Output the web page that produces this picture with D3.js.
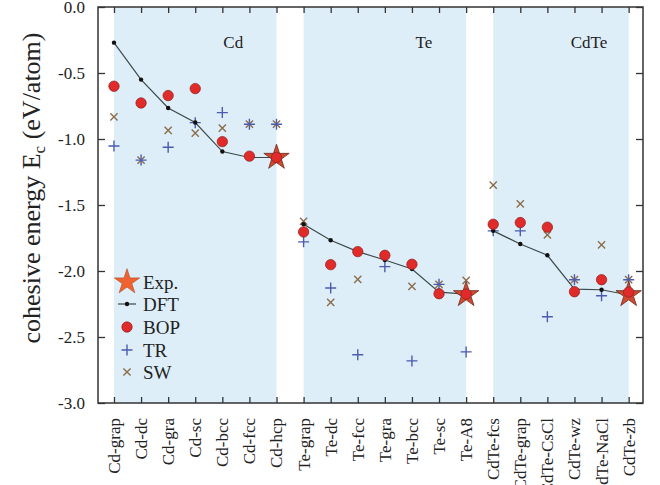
<!DOCTYPE html>
<html>
<head>
<meta charset="utf-8">
<script src="https://cdn.jsdelivr.net/npm/d3@7"></script>
<style>
  body { margin: 0; background: #fff; }
  svg { display: block; font-family: "Liberation Serif", "DejaVu Serif", serif; }
</style>
</head>
<body>
<svg id="chart" width="660" height="485"></svg>
<script>
// structures on the x axis
var categories = ["Cd-grap", "Cd-dc", "Cd-gra", "Cd-sc", "Cd-bcc", "Cd-fcc", "Cd-hcp",
                  "Te-grap", "Te-dc", "Te-fcc", "Te-gra", "Te-bcc", "Te-sc", "Te-A8",
                  "CdTe-fcs", "CdTe-grap", "CdTe-CsCl", "CdTe-wz", "CdTe-NaCl", "CdTe-zb"];

// shaded groups: name, first and last category
var groupNames = ["Cd", "Te", "CdTe"];
var groupStart = ["Cd-grap", "Te-grap", "CdTe-fcs"];
var groupEnd = ["Cd-hcp", "Te-A8", "CdTe-zb"];

// cohesive energies (eV/atom)
var dft = [-0.27, -0.55, -0.765, -0.875, -1.095, -1.14, -1.14,
           -1.646, -1.767, -1.853, -1.917, -1.985, -2.16, -2.175,
           -1.696, -1.795, -1.881, -2.137, -2.142, -2.182];
var bop = [-0.60, -0.727, -0.671, -0.618, -1.02, -1.13, -1.14,
           -1.704, -1.952, -1.853, -1.881, -1.949, -2.172, -2.175,
           -1.646, -1.633, -1.668, -2.157, -2.066, -2.16];
var tr = [-1.053, -1.16, -1.063, -0.876, -0.80, -0.888, -0.888,
          -1.779, -2.129, -2.635, -1.967, -2.681, -2.101, -2.613,
          -1.696, -1.696, -2.347, -2.066, -2.187, -2.066];
var sw = [-0.833, -1.16, -0.934, -0.955, -0.917, -0.888, -0.888,
          -1.623, -2.238, -2.063, null, -2.117, -2.101, -2.071,
          -1.349, -1.491, -1.726, -2.066, -1.802, -2.066];
var expCats = ["Cd-hcp", "Te-A8", "CdTe-zb"];
var expVals = [-1.14, -2.18, -2.18];

var yTicks = [0, -0.5, -1.0, -1.5, -2.0, -2.5, -3.0];

var pLeft = 98, pRight = 643, pTop = 7, pBottom = 403;

var svg = d3.select("#chart");

var x = d3.scaleLinear().domain([-0.59, 19.53]).range([pLeft, pRight]);
var y = d3.scaleLinear().domain([0, -3]).range([pTop, pBottom]);
var xi = function(c) { return x(categories.indexOf(c)); };

// background bands
svg.selectAll("rect.band")
  .data(groupNames)
  .enter().append("rect")
  .attr("class", "band")
  .attr("x", function(d, i) { return xi(groupStart[i]); })
  .attr("width", function(d, i) { return xi(groupEnd[i]) - xi(groupStart[i]); })
  .attr("y", pTop)
  .attr("height", pBottom - pTop)
  .attr("fill", "#deeef8");

svg.selectAll("text.group")
  .data(groupNames)
  .enter().append("text")
  .attr("class", "group")
  .attr("x", function(d, i) { return (xi(groupStart[i]) + xi(groupEnd[i])) / 2 + [38, 39, 28][i]; })
  .attr("y", 48)
  .attr("text-anchor", "middle")
  .attr("font-size", 17)
  .attr("fill", "#222")
  .text(function(d) { return d; });

// axes
var axisColor = "#333";
svg.append("g")
  .attr("transform", "translate(0," + pBottom + ")")
  .call(d3.axisTop(x).tickValues(d3.range(categories.length)).tickSize(6).tickFormat(""))
  .call(function(g) { g.select(".domain").remove(); });
svg.append("g")
  .attr("transform", "translate(0," + pTop + ")")
  .call(d3.axisBottom(x).tickValues(d3.range(categories.length)).tickSize(6).tickFormat(""))
  .call(function(g) { g.select(".domain").remove(); });
svg.append("g")
  .attr("transform", "translate(" + pLeft + ",0)")
  .call(d3.axisRight(y).tickValues(yTicks).tickSize(7).tickFormat(""))
  .call(function(g) { g.select(".domain").remove(); });
svg.append("g")
  .attr("transform", "translate(" + pRight + ",0)")
  .call(d3.axisLeft(y).tickValues(yTicks).tickSize(7).tickFormat(""))
  .call(function(g) { g.select(".domain").remove(); });
svg.selectAll(".tick line").attr("stroke", axisColor).attr("stroke-width", 1.3);

svg.append("rect")
  .attr("x", pLeft).attr("y", pTop)
  .attr("width", pRight - pLeft).attr("height", pBottom - pTop)
  .attr("fill", "none").attr("stroke", axisColor).attr("stroke-width", 1.5);

// y tick labels
svg.selectAll("text.ylab")
  .data(yTicks)
  .enter().append("text")
  .attr("class", "ylab")
  .attr("x", pLeft - 13)
  .attr("y", function(d) { return y(d); })
  .attr("dy", "0.35em")
  .attr("text-anchor", "end")
  .attr("font-size", 17)
  .attr("fill", "#222")
  .text(function(d) { return d3.format(".1f")(d).replace("−", "-"); });

// x tick labels
svg.selectAll("text.xlab")
  .data(categories)
  .enter().append("text")
  .attr("class", "xlab")
  .attr("transform", function(d) { return "translate(" + xi(d) + "," + (pBottom + 15) + ") rotate(-90)"; })
  .attr("dy", "0.35em")
  .attr("text-anchor", "end")
  .attr("font-size", 17)
  .attr("fill", "#222")
  .text(function(d) { return d; });

// y axis title
var ytitle = svg.append("text")
  .attr("transform", "translate(40,188) rotate(-90)")
  .attr("text-anchor", "middle")
  .attr("font-size", 26)
  .attr("fill", "#222");
ytitle.append("tspan").text("cohesive energy E");
ytitle.append("tspan").attr("font-size", 17).attr("dy", 5).text("c");
ytitle.append("tspan").attr("dy", -5).text(" (eV/atom)");

// marker helpers
var starPath = d3.symbol().type(d3.symbolStar).size(200);
function plus(g, cx, cy, r, color) {
  g.append("path").attr("d", "M" + (cx - r) + "," + cy + "H" + (cx + r) + "M" + cx + "," + (cy - r) + "V" + (cy + r))
    .attr("stroke", color).attr("stroke-width", 1.4).attr("fill", "none");
}
function cross(g, cx, cy, r, color) {
  g.append("path").attr("d", "M" + (cx - r) + "," + (cy - r) + "L" + (cx + r) + "," + (cy + r) + "M" + (cx - r) + "," + (cy + r) + "L" + (cx + r) + "," + (cy - r))
    .attr("stroke", color).attr("stroke-width", 1.4).attr("fill", "none");
}
var trColor = "#4b5cb0", swColor = "#8b6d4c", bopColor = "#e12a2a", starColor = "#ee6330";

var marks = svg.append("g");

// SW and TR
sw.forEach(function(v, i) { if (v !== null) cross(marks, x(i), y(v), 3.6, swColor); });
tr.forEach(function(v, i) { if (v !== null) plus(marks, x(i), y(v), 5.5, trColor); });

// DFT line
var line = d3.line().x(function(d) { return x(d.i); }).y(function(d) { return y(d.v); });
[[0, 7], [7, 14], [14, 20]].forEach(function(r) {
  var seg = dft.slice(r[0], r[1]).map(function(v, k) { return {i: r[0] + k, v: v}; });
  marks.append("path").datum(seg).attr("d", line)
    .attr("fill", "none").attr("stroke", "#3d4a4a").attr("stroke-width", 1.2);
});
marks.selectAll("circle.dft")
  .data(dft).enter().append("circle")
  .attr("class", "dft")
  .attr("cx", function(d, i) { return x(i); })
  .attr("cy", function(d) { return y(d); })
  .attr("r", 2.2).attr("fill", "#111");

// experiment stars
marks.selectAll("path.exp")
  .data(expVals).enter().append("path")
  .attr("class", "exp")
  .attr("d", starPath)
  .attr("transform", function(d, i) { return "translate(" + xi(expCats[i]) + "," + y(d) + ")"; })
  .attr("fill", "#d24a2e").attr("stroke", "#6b2a22").attr("stroke-width", 0.8);

// BOP
marks.selectAll("circle.bop")
  .data(bop).enter().append("circle")
  .attr("class", "bop")
  .attr("cx", function(d, i) { return x(i); })
  .attr("cy", function(d) { return y(d); })
  .attr("r", 5.2)
  .attr("fill", bopColor).attr("stroke", "#8a2020").attr("stroke-width", 0.7);

// legend
var legendNames = ["Exp.", "DFT", "BOP", "TR", "SW"];
var legendY = [282, 304, 327, 350, 372];
var lg = svg.append("g");
var lx = 127;
lg.append("path").attr("d", starPath).attr("transform", "translate(" + lx + "," + legendY[0] + ")")
  .attr("fill", starColor).attr("stroke", "#b04a22").attr("stroke-width", 0.6);
lg.append("line").attr("x1", lx - 9).attr("x2", lx + 9).attr("y1", legendY[1]).attr("y2", legendY[1])
  .attr("stroke", "#3d4a4a").attr("stroke-width", 1.2);
lg.append("circle").attr("cx", lx).attr("cy", legendY[1]).attr("r", 2.2).attr("fill", "#111");
lg.append("circle").attr("cx", lx).attr("cy", legendY[2]).attr("r", 5.2)
  .attr("fill", bopColor).attr("stroke", "#8a2020").attr("stroke-width", 0.7);
plus(lg, lx, legendY[3], 5.5, trColor);
cross(lg, lx, legendY[4], 3.6, swColor);
lg.selectAll("text")
  .data(legendNames).enter().append("text")
  .attr("x", 143)
  .attr("y", function(d, i) { return legendY[i]; })
  .attr("dy", "0.35em")
  .attr("font-size", 19)
  .attr("fill", "#222")
  .text(function(d) { return d; });
</script>
</body>
</html>
